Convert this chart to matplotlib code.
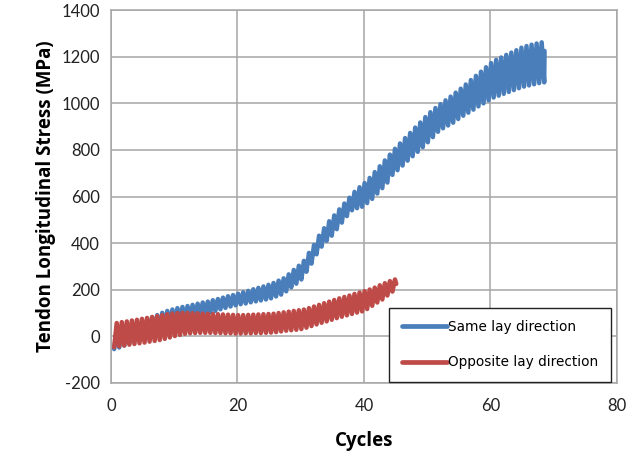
import numpy as np
import matplotlib
matplotlib.use("Agg")
import matplotlib.pyplot as plt

plt.rcParams["axes.unicode_minus"] = False

# Oscillation period (cycles) and start position
period = 0.8
start = 0.5

# Same lay direction: per-oscillation peak / trough values (MPa)
blue_peaks = [30, 38, 46, 52, 59, 66, 73, 82, 91, 101, 109, 115, 121, 126, 130, 135,
              140, 145, 149, 155, 160, 166, 172, 177, 183, 189, 195, 202, 208, 214, 221,
              229, 239, 249, 266, 285, 303, 324, 358, 392, 432, 464, 494, 519, 545, 570,
              595, 620, 640, 658, 680, 705, 730, 755, 780, 805, 828, 851, 873, 896, 918,
              941, 962, 980, 997, 1013, 1029, 1046, 1063, 1081, 1100, 1118, 1136, 1155,
              1173, 1187, 1197, 1208, 1218, 1228, 1239, 1246, 1252, 1257, 1262]
blue_troughs = [-55, -48, -39, -30, -20, -11, -2, 6, 14, 22, 31, 41, 51, 59, 66, 73,
                80, 87, 94, 102, 109, 116, 122, 128, 133, 138, 141, 146, 150, 154, 158,
                163, 171, 179, 193, 210, 226, 244, 277, 312, 352, 385, 410, 432, 460, 488,
                516, 541, 550, 556, 572, 590, 613, 636, 660, 693, 713, 733, 754, 773, 792,
                812, 833, 855, 878, 893, 905, 917, 933, 947, 960, 973, 987, 1000, 1013,
                1025, 1033, 1041, 1049, 1057, 1065, 1072, 1077, 1082, 1087]
blue_end_x = [68.5, 68.55]
blue_end_y = [1090, 1225]

# Opposite lay direction
red_peaks = [57, 61, 64, 68, 71, 75, 79, 83, 87, 91, 95, 98, 100, 101, 101, 100, 99, 98,
             97, 96, 95, 94, 93, 92, 91, 91, 92, 93, 94, 95, 96, 97, 100, 103, 106, 109,
             112, 115, 121, 128, 135, 142, 149, 156, 163, 169, 175, 182, 188, 194, 201,
             209, 219, 228, 237, 244]
red_troughs = [-47, -43, -40, -36, -33, -30, -27, -23, -20, -16, -11, -5, 1, 6, 11, 13,
               14, 15, 15, 15, 14, 14, 13, 13, 12, 12, 13, 13, 14, 14, 15, 16, 18, 21,
               24, 26, 28, 31, 37, 44, 51, 58, 64, 71, 78, 84, 90, 96, 102, 107, 117,
               131, 145, 158, 175, 192]
red_end_x = [45.1]
red_end_y = [225]

x_ticks = [0, 20, 40, 60, 80]
y_ticks = [-200, 0, 200, 400, 600, 800, 1000, 1200, 1400]


def zigzag(peaks, troughs, end_x, end_y):
    xs, ys = [], []
    for k, (p, t) in enumerate(zip(peaks, troughs)):
        c = start + period * k
        xs += [c, c + period / 2]
        ys += [t, p]
    return np.array(xs + end_x), np.array(ys + end_y)


fig = plt.figure(figsize=(6.38, 4.63), dpi=100)
ax = fig.add_axes([0.174, 0.173, 0.793, 0.805])

bx, by = zigzag(blue_peaks, blue_troughs, blue_end_x, blue_end_y)
rx, ry = zigzag(red_peaks, red_troughs, red_end_x, red_end_y)

ax.plot(bx, by, color="#4A7EBB", lw=3.2, label="Same lay direction",
        solid_joinstyle="round", solid_capstyle="round", zorder=3)
ax.plot(rx, ry, color="#BE4B48", lw=3.2, label="Opposite lay direction",
        solid_joinstyle="round", solid_capstyle="round", zorder=4)

ax.set_xlim(0, 80)
ax.set_ylim(-200, 1400)
ax.set_xticks(x_ticks)
ax.set_yticks(y_ticks)
ax.grid(True, color="#A6A6A6", lw=1.1)
ax.set_axisbelow(True)
for s in ax.spines.values():
    s.set_color("#A6A6A6")
    s.set_linewidth(1.1)
ax.tick_params(length=0, labelsize=12, pad=8, colors="#222222")
for lab in ax.get_xticklabels() + ax.get_yticklabels():
    lab.set_fontfamily("Lato")
ax.tick_params(axis="x", pad=11)

ax.set_xlabel("Cycles", fontsize=13.5, fontweight="bold", fontfamily="Open Sans",
              labelpad=12)
ax.set_ylabel("Tendon Longitudinal Stress (MPa)", fontsize=13.5, fontweight="bold",
              fontfamily="Open Sans", labelpad=4)

leg = ax.legend(loc="lower right", bbox_to_anchor=(0.99, 0.0), frameon=True,
                fancybox=False, edgecolor="#222222", framealpha=1,
                prop={"family": "DejaVu Sans", "size": 9.8},
                handlelength=3.3, handletextpad=0.1, borderpad=0.9,
                labelspacing=1.55, borderaxespad=0.1)
leg.get_frame().set_linewidth(1.0)
for line in leg.get_lines():
    line.set_linewidth(3.4)

fig.savefig("out.png", dpi=100)
